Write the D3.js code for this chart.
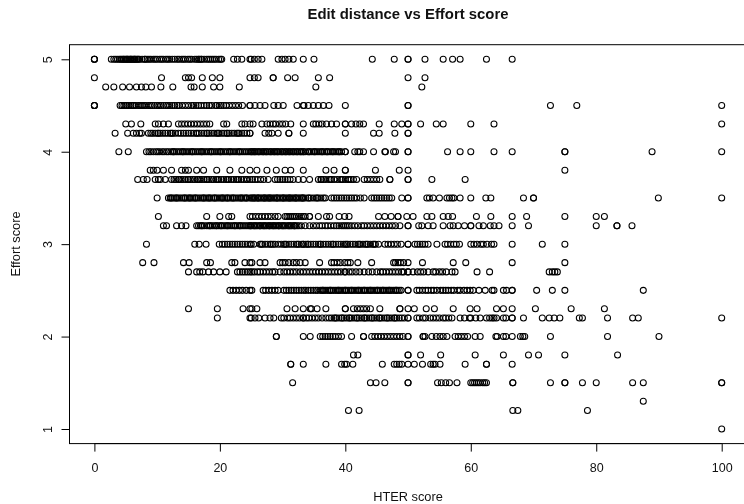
<!DOCTYPE html>
<html><head><meta charset="utf-8">
<script src="https://cdn.jsdelivr.net/npm/d3@7/dist/d3.min.js"></script>
<style>html,body{margin:0;padding:0;background:#fff;overflow:hidden}svg{display:block;filter:blur(0.35px)}text{font-family:"Liberation Sans",Arial,sans-serif;fill:#111}</style>
</head><body><script>
const xTicks=[0,20,40,60,80,100];
const yTicks=[1,2,3,4,5];
const chartTitle="Edit distance vs Effort score";
const xName="HTER score", yName="Effort score";
const e50=[0,0,0,2.7,3.1,3.4,3.7,4,4.2,4.4,4.6,4.7,4.9,5.1,5.2,5.3,5.5,5.7,5.8,5.9,6.1,6.3,6.4,6.5,6.7,6.9,7,7.2,7.6,8,8.1,8.4,8.7,9,9.4,9.7,10,10.4,10.7,11,11.4,11.7,12,12.4,12.8,13.2,13.5,13.9,14.2,14.5,14.9,15.2,15.5,16,16.3,16.6,16.7,17,17.1,17.5,17.9,18.2,18.5,18.8,19.1,19.4,19.8,20.1,20.3,22.2,22.8,23.5,24.8,25,25.5,26.1,26.7,29.3,29.9,30.4,31,31.7,33.3,35,44.3,47.8,50,50,52.7,55.6,57.1,58.3,62.5,66.6];
const e48=[0,10.7,14.5,15,15.5,17.2,18.8,20,24.8,25.5,26.1,28.5,28.5,30.8,32,35.7,37.5,50,52.7];
const e47=[1.8,3.1,4.5,5.6,6.7,7.5,8.2,9.1,10.6,12.5,15.4,15.9,17.2,19,20,23.1,35.3,52.2];
const e45=[0,0,0,4.1,4.4,4.7,5,5.2,5.5,5.8,6.1,6.3,6.6,7,7.3,7.6,7.9,8.2,8.6,8.9,9.2,9.6,10,10.3,10.6,11,11.4,11.7,12,12.4,12.8,13.2,13.5,14,14.5,15,15.5,15.8,16.2,16.6,17,17.5,17.9,18.3,18.7,19.3,19.5,19.9,20.2,20.6,21,21.5,22,22.5,23,23.6,24.8,24.8,25.6,26.4,27.2,28.6,29.3,30.1,32.3,33.3,33.4,34.1,34.9,35.7,36.5,37.4,40,50,50,72.7,76.9,100];
const e43=[5,5.9,7.4,9.7,10.2,11,11.8,13.4,13.9,14.4,14.9,15.4,15.9,16.4,16.9,17.4,17.9,18.4,20.6,21.1,23.5,24,24.8,25.3,26.7,27.5,28,28.5,28.9,29.5,30,30.5,31.3,33.3,34.9,35.3,35.8,36.3,37,37.8,38.6,40,40,41,41.7,42.3,42.9,45.4,47.8,49,50,50,52,54.5,55.6,60,63.7,100];
const e42=[3.3,5.3,6.2,6.7,7.2,7.5,8.6,9,9.3,9.7,10.1,10.2,10.5,10.9,11.3,11.7,12.1,12.3,12.5,12.9,13.4,13.8,14.2,14.6,15,15.4,15.8,16.2,16.4,16.7,17.1,17.5,17.9,18,18.3,18.7,19.1,19.5,19.7,19.9,20.3,20.7,21.1,21.2,21.5,21.9,22.3,22.7,22.9,23.1,23.5,23.9,24.3,24.8,24.8,27.2,27.8,28.3,29.3,31,31,33.3,40,44.5,45.4,47.9,50,50];
const e40=[3.9,5.4,8.3,8.7,9,9.4,9.8,10.1,10.4,10.8,11.1,11.5,11.8,12.2,12.5,12.6,12.8,13.1,13.4,13.7,14,14.1,14.3,14.6,14.9,15.2,15.5,15.6,15.8,16.1,16.4,16.7,17,17.1,17.3,17.6,17.9,18.2,18.5,18.6,18.8,19.1,19.4,19.7,20,20.1,20.3,20.6,20.9,21.2,21.5,21.6,21.8,22.1,22.4,22.7,23,23.1,23.3,23.6,23.9,24.2,24.5,24.8,25,25.1,25.3,25.5,25.6,25.8,26.1,26.2,26.4,26.7,26.9,27,27.3,27.4,27.6,27.9,28.1,28.2,28.5,28.7,28.8,29.1,29.2,29.4,29.7,29.9,30,30.3,30.5,30.6,30.9,31.1,31.2,31.5,31.7,31.8,32.1,32.3,32.4,32.7,32.9,33,33.3,33.3,33.6,34,34.2,34.3,34.6,34.9,35.1,35.2,35.5,35.8,36.1,36.3,36.4,36.7,37,37.1,37.3,37.6,37.9,38,38.2,38.5,38.8,39,39.1,39.4,40,40,41.5,42,42.3,42.9,44.5,46.3,46.4,47.7,48,50,50,56.3,58.3,60,63.7,66.6,75,75,88.9,100];
const e38=[8.9,9.4,10,11,12.3,13.9,14.5,15,16.3,17.4,19.5,21.6,23.5,24.8,25.9,27.5,29,30.4,31.3,33.3,36.9,38.2,40,40,44.8,48.6,50,75];
const e37=[6.9,7.8,8.4,9.7,10.2,10.5,11.3,12.3,12.7,13,13.4,13.5,13.8,14.1,14.5,14.9,15,15.3,15.7,16,16.4,16.5,16.8,17.1,17.5,17.9,18,18.3,18.7,19,19.4,19.6,19.8,20.2,20.6,21,21.2,21.4,21.8,22.2,22.6,22.8,23,23.4,23.8,24.2,24.4,24.8,25.2,25.6,26,26.5,27,27.7,28.8,29.2,29.6,30,30.4,30.8,31.2,31.7,32.5,33.3,34.3,35.7,36.1,36.2,36.5,36.9,37.4,37.6,37.8,38.2,38.7,39.2,39.4,39.6,40,40.4,40.6,40.9,41.3,41.8,43,43.5,44,44.5,45,45.5,47.1,47.1,50,50,53.8,59.1];
const e35=[10,11.8,12.1,12.2,12.4,12.7,13,13.1,13.3,13.6,13.9,14.2,14.4,14.5,14.8,15.1,15.2,15.4,15.7,16,16.1,16.3,16.6,16.9,17.2,17.4,17.5,17.8,18.1,18.3,18.4,18.7,19,19.2,19.3,19.6,19.9,20.2,20.4,20.5,20.8,21.1,21.2,21.4,21.7,22,22.1,22.3,22.6,22.9,23.2,23.4,23.5,23.8,24.1,24.2,24.4,24.8,25,25.2,25.4,25.5,25.7,26,26.1,26.2,26.5,26.7,27,27.1,27.2,27.5,27.7,27.9,28,28.2,28.5,28.7,29,29.1,29.2,29.5,29.7,30,30.1,30.2,30.5,30.7,31,31.1,31.2,31.5,31.7,32,32.1,32.2,32.5,32.7,33,33.1,33.3,33.3,33.7,34.1,34.2,34.5,34.9,35.3,35.5,35.7,36.1,36.5,36.8,37.8,38.2,38.6,39,39.4,39.8,40.2,40.6,41,41.4,41.8,42.4,43,44.2,44.6,45,45.4,45.8,46.2,46.6,47,47.4,49,50,50,53,53.4,54,55,56.2,56.6,57,57.3,58.3,60,62.4,63.2,68.4,70,70,89.9,100];
const e33=[10.2,17.9,20,21.4,21.9,24.8,25.2,25.7,26.2,26.7,27.2,27.7,28.2,28.8,29.3,30.4,30.7,31,31.3,31.6,31.9,32.2,32.6,33,33.3,33.6,34.3,34.3,35.7,37,37.5,39,39.9,40.6,45.3,46.3,47.3,48.4,48.4,49.8,50.8,53,53.8,55.6,56.4,57.1,60.9,63.2,66.6,68.9,75,80,81.3];
const e32=[11,11.5,13.1,13.9,14.6,16.3,16.6,16.9,17.1,17.2,17.5,17.9,18.2,18.4,18.5,18.8,19.1,19.4,19.5,19.8,20.1,20.2,20.4,20.7,21,21.2,21.3,21.6,21.9,22.2,22.4,22.5,22.8,23.1,23.2,23.4,23.7,24,24.3,24.6,24.8,24.9,25,25.3,25.5,25.6,25.8,26,26.3,26.4,26.5,26.8,27,27.1,27.3,27.5,27.8,27.9,28,28.3,28.5,28.6,28.8,29,29.3,29.4,29.5,29.8,30,30.1,30.3,30.5,30.8,31,31.1,31.3,31.5,31.8,31.9,32,32.3,32.6,33,33.6,34.3,34.9,35.4,35.9,36.3,36.8,37.2,37.7,38.2,38.6,39,39.4,39.7,40,40.3,40.6,41,41.5,42,42.6,43,43.5,44,44.5,45,45.5,46,46.5,47,47.5,48,48.7,50,50,51.7,52.2,53.2,54,55.6,56.7,57.2,58,59,60,60,61.3,62,63.1,63.7,64.5,66.6,69.2,80,83.3,83.3,85.7];
const e30=[8.3,16,16.7,17.8,19.9,20.4,20.8,21.2,21.6,22,22.4,22.8,23.2,23.6,24,24.4,24.8,25,25.4,26.4,26.6,26.8,27.2,27.6,28,28.2,28.5,28.8,29.3,29.8,30.2,30.4,30.6,31,31.4,31.8,32.2,32.4,32.6,33,33.3,33.3,33.7,34,34.1,34.5,34.9,35.3,35.7,36,36.1,36.5,36.9,37.3,37.7,38,38.1,38.5,38.9,39.3,39.7,40,40.2,40.4,40.8,41.2,41.6,42,42.2,42.4,42.8,43.2,43.4,43.6,44,44.4,44.6,44.8,45.3,46.3,46.8,47.3,47.8,48.3,48.9,50,50,51.1,51.5,51.9,52.3,52.7,53.2,54.6,55.9,56.3,56.8,57.3,57.7,58.2,60,60.5,61,61.6,62,62.6,63.3,63.7,66.6,71.4,75];
const e28=[7.7,9.5,14.2,15.1,17.9,18.5,21.9,22.4,24,24.8,25.1,26.4,27.2,29.6,30,30.4,31,31.7,32.2,32.8,33.6,35.9,37.8,38.2,38.7,39.2,39.9,40.4,40.8,42,44.2,47.7,48,48.4,48.8,49.3,50,52.3,57.2,59.2,66.6,75];
const e27=[15,16.3,16.8,17.3,18.2,19,20,21,22.8,23.2,23.6,24,24.4,24.8,25.1,25.5,26,26.4,26.9,27.4,27.9,28.4,28.8,29.6,30.2,30.7,31.2,31.7,32.2,32.8,33.3,33.8,34.3,34.8,35.3,35.8,36.3,36.8,37.3,37.8,38.3,38.8,39.3,39.9,40,40.6,41.1,41.7,42.3,43,43.7,44.3,45,45.6,46,46.5,47,47.5,48,48.5,49,49.3,50,50,50.8,51.5,52,52.5,53.2,54,54.4,55,55.5,56.1,57,57.5,61,63,72.5,73,73.4,73.8];
const e25=[21.6,22.1,22.6,23.1,23.6,24.2,24.8,25.1,26.9,27.3,27.8,28.3,28.8,29.3,30.2,30.6,31,31.4,31.8,32.2,32.6,33,33.4,33.7,34.1,34.5,34.9,35.3,35.6,36,36.3,36.4,36.6,36.9,37.2,37.5,37.6,37.8,38.1,38.4,38.7,38.9,39,39.3,39.6,39.9,40,40.2,40.5,40.8,41,41.1,41.4,41.7,42,42.1,42.3,42.6,42.9,43,43.2,43.5,43.8,44,44.1,44.4,44.7,45,45.1,45.3,45.6,45.9,46,46.2,46.5,46.8,47,47.1,47.4,47.7,48,48.1,48.3,48.6,48.9,50,50,51.4,51.8,52.3,52.8,53.2,53.7,54.1,54.6,55.2,55.6,56,56.4,56.9,57.3,57.9,58.3,58.9,59.4,59.9,60.4,61.3,62.3,63.4,63.7,65.2,65.7,66.6,66.6,70.5,73,75,87.5];
const e23=[15,19.6,23.7,24.8,25.1,25.9,30.7,32,33.3,34.4,34.6,35.5,36.9,40,40,41.3,41.9,42.4,42.9,43.4,44,45.5,48.7,48.7,50,51,52.9,54.2,57.2,59.9,61,64.1,65.2,66.6,70.3,76,81.3];
const e22=[19.6,24.8,25,25.6,26.2,27.2,28,28.6,29.8,30.2,30.8,31.2,31.7,32.2,32.7,33.3,33.3,33.8,34.2,34.7,35.2,35.7,36.3,36.9,37.4,37.8,38.2,38.4,38.6,39,39.4,39.5,39.8,40.2,40.6,40.7,41,41.4,41.8,41.9,42.2,42.6,43,43.1,43.4,43.8,44.2,44.3,44.6,45,45.4,45.5,45.8,46.2,46.6,46.7,47,47.4,47.8,47.9,48.2,48.6,49,49.4,50,50,51.4,51.8,52.4,52.8,53.5,54,54.5,55,55.6,56,56.5,57,58.3,59,59.8,60,60.8,61.5,62.5,63,63.4,63.7,64.1,65.2,65.6,66.6,66.6,68.4,71.4,72.5,73.3,74.2,77.3,77.8,81.8,85.8,86.7,100];
const e20=[29,29,33.3,34.4,36,36.4,36.8,37.2,37.6,38,38.4,38.9,39.4,41,42.9,42.9,44.2,44.7,45.2,45.7,46.2,46.7,47.2,47.7,48.2,48.7,49.2,50,50,52.4,52.4,52.7,53.8,54.5,55.1,55.6,56.2,57.5,58,58.5,59,59.5,60.7,61.5,64,64.2,65.2,65.6,66.6,67.9,68.3,68.6,72.7,81.8,90];
const e18=[41.3,42,50,50,52,55.2,60.7,65.2,69.2,70.8,75,83.4];
const e17=[31.3,31.3,33.3,36.9,39.4,39.9,40.2,41.2,45.9,47.8,48.2,48.6,49,50,51,52.3,53.6,54,54.3,55.1,59.1,62.5,62.5,66.6];
const e15=[31.6,44,44.9,46.3,50,50,54.7,55.3,56,56.6,57.8,60,60.3,60.6,60.9,61.2,61.5,61.9,62.2,62.5,66.7,66.7,72.7,75,75,77.8,80,85.8,87.5,100,100];
const e13=[87.5];
const e12=[40.5,42.2,66.7,67.5,78.6];
const e10=[100];
const effortLevels=[5,4.8,4.7,4.5,4.3,4.2,4,3.8,3.7,3.5,3.3,3.2,3,2.8,2.7,2.5,2.3,2.2,2,1.8,1.7,1.5,1.3,1.2,1];
const hterByLevel=[e50,e48,e47,e45,e43,e42,e40,e38,e37,e35,e33,e32,e30,e28,e27,e25,e23,e22,e20,e18,e17,e15,e13,e12,e10];

const W=744,H=504;
const x=d3.scaleLinear().domain([0,100]).range([94.4,721.7]);
const y=d3.scaleLinear().domain([1,5]).range([429,59.3]);
const left=69.5,top_=44.7,bottom=443.6,right=747;
const svg=d3.select("body").append("svg").attr("width",W).attr("height",H);
svg.append("rect").attr("x",left).attr("y",top_).attr("width",right-left).attr("height",bottom-top_)
  .attr("fill","none").attr("stroke","#000").attr("stroke-width",1);
const pts=svg.append("g").attr("fill","none").attr("stroke","#000").attr("stroke-width",1.05);
effortLevels.forEach((lev,i)=>{
  pts.selectAll(null).data(hterByLevel[i]).enter().append("circle")
    .attr("cx",d=>x(d)).attr("cy",y(lev)).attr("r",3);
});
const gx=svg.append("g").attr("transform",`translate(0,${bottom})`)
  .call(d3.axisBottom(x).tickValues(xTicks).tickFormat(d3.format("d")).tickSize(8));
const gy=svg.append("g").attr("transform",`translate(${left},0)`)
  .call(d3.axisLeft(y).tickValues(yTicks).tickFormat(d3.format("d")).tickSize(8).tickSizeOuter(0));
[gx,gy].forEach(g=>{g.selectAll("path,line").attr("stroke","#000").attr("stroke-width",1);
  g.selectAll("text").attr("font-size",12.5).style("font-family",'"Liberation Sans",Arial,sans-serif').attr("fill","#111");});
gx.select("path").attr("d",`M${x(0)},0H${x(100)}`);
gy.select("path").attr("d",`M0,${y(1)}V${y(5)}`);
gx.selectAll("text").attr("dy",null).attr("y",28.4);
gy.selectAll("text").attr("dy",null).attr("text-anchor","middle")
  .attr("transform","translate(-17.8,0) rotate(-90)").attr("y",0).attr("x",0);
svg.append("text").attr("x",408).attr("y",19.3).attr("text-anchor","middle").attr("font-size",14.9).attr("font-weight","bold").text(chartTitle);
svg.append("text").attr("x",408).attr("y",501.3).attr("text-anchor","middle").attr("font-size",12.8).text(xName);
svg.append("text").attr("transform","translate(20,244) rotate(-90)").attr("text-anchor","middle").attr("font-size",12.8).text(yName);
</script></body></html>
